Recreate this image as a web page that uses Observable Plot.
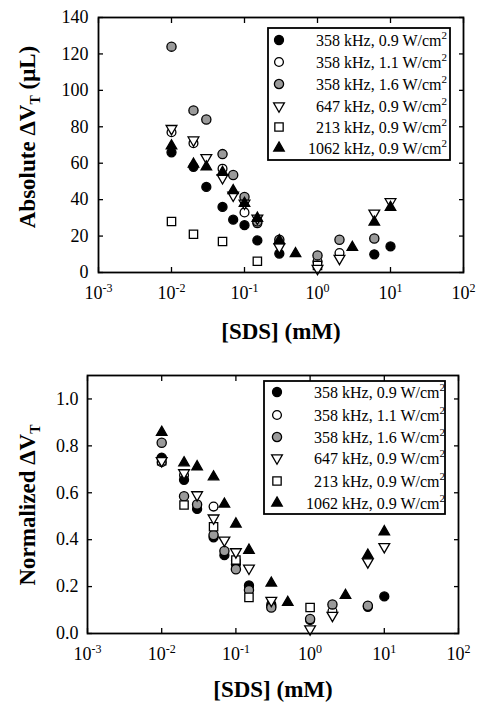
<!DOCTYPE html>
<html><head><meta charset="utf-8">
<script src="https://cdn.jsdelivr.net/npm/d3@7"></script>
<script src="https://cdn.jsdelivr.net/npm/@observablehq/plot@0.6"></script>
<style>
body{margin:0;background:#fff;}
#wrap{position:relative;width:478px;height:702px;background:#fff;overflow:hidden;}
#wrap svg{position:absolute;left:0;}
</style></head><body><div id="wrap"></div>
<script>
// ---------- data ----------
const sds = [0.01, 0.02, 0.03, 0.05, 0.07, 0.1, 0.15, 0.3, 0.5, 1, 2, 3, 6, 10];
const seriesLabels = ["358 kHz, 0.9 W/cm", "358 kHz, 1.1 W/cm", "358 kHz, 1.6 W/cm", "647 kHz, 0.9 W/cm", "213 kHz, 0.9 W/cm", "1062 kHz, 0.9 W/cm"];
const labelSup = "2";
// Absolute ΔV_T (µL)
const abs358_09 = [66, 58, 47, 36, 29, 26, 17.6, 10.4, null, null, null, null, 10, 14.3];
const abs358_11 = [77, 71, null, 57, null, 33, 27, 16, null, 6, 10.7, null, null, null];
const abs358_16 = [124, 89, 84, 65, 53.5, 41.5, 28, 18, null, 9.4, 18, null, 18.7, null];
const abs647_09 = [79, 72.7, 63, 52, 42.4, 38, 29.8, 14, null, 2.2, 7.7, null, 32.5, 38.8];
const abs213_09 = [28, 21, null, 17, null, null, 6.2, null, null, 3.9, null, null, null, null];
const abs1062_09 = [69.5, 59.5, 58, 55, 45, 38, 29.8, 17.5, 10.4, null, null, 13.8, 27.7, 35.8];
// Normalized ΔV_T
const nrm358_09 = [0.75, 0.655, 0.531, 0.41, 0.334, 0.295, 0.205, 0.118, null, null, null, null, 0.114, 0.158];
const nrm358_11 = [0.73, 0.675, null, 0.541, null, 0.31, 0.2, 0.125, null, 0.057, 0.095, null, null, null];
const nrm358_16 = [0.813, 0.585, 0.55, 0.42, 0.352, 0.274, 0.185, 0.111, null, 0.062, 0.124, null, 0.118, null];
const nrm647_09 = [0.737, 0.685, 0.591, 0.492, 0.398, 0.348, 0.278, 0.141, null, 0.019, 0.077, null, 0.305, 0.37];
const nrm213_09 = [0.737, 0.548, null, 0.455, null, 0.313, 0.154, null, null, 0.111, null, null, null, null];
const nrm1062_09 = [0.858, 0.728, 0.711, 0.668, 0.552, 0.467, 0.355, 0.215, 0.133, null, null, 0.163, 0.334, 0.434];
// ticks
const xTicks = [1e-3, 1e-2, 1e-1, 1, 10, 100];
const yTicksAbs = [0, 20, 40, 60, 80, 100, 120, 140];
const yTicksNrm = [0, 0.2, 0.4, 0.6, 0.8, 1.0];

// ---------- styles ----------
const FONT = '"Liberation Serif", "Times New Roman", serif';
const triDown = {
  draw(ctx, size) {
    const y = -Math.sqrt(size / (Math.sqrt(3) * 3));
    ctx.moveTo(0, -y * 2);
    ctx.lineTo(-Math.sqrt(3) * y, y);
    ctx.lineTo(Math.sqrt(3) * y, y);
    ctx.closePath();
  }
};
const styles = [
  {symbol: "circle", fill: "#000", r: 4.5},
  {symbol: "circle", fill: "#fff", r: 4.4},
  {symbol: "circle", fill: "#9a9a9a", r: 4.6},
  {symbol: triDown, fill: "#fff", r: 4.0},
  {symbol: "square", fill: "#fff", r: 4.7},
  {symbol: "triangle", fill: "#000", r: 3.9}
];
const drawOrder = [1, 0, 2, 4, 3, 5];
const symMap = {circle: d3.symbolCircle, square: d3.symbolSquare, triangle: d3.symbolTriangle};

function makePanel(cfg) {
  const rows = [];
  cfg.series.forEach((arr, si) => arr.forEach((v, i) => { if (v != null) rows.push({x: sds[i], y: v, s: si}); }));
  const dots = drawOrder.map(si => Plot.dot(rows.filter(d => d.s === si), {
    x: "x", y: "y", symbol: styles[si].symbol, fill: styles[si].fill, stroke: "#000", strokeWidth: 1.3, r: styles[si].r
  }));
  const plot = Plot.plot({
    width: 478, height: cfg.height,
    marginLeft: cfg.ml, marginRight: cfg.mr, marginTop: cfg.mt, marginBottom: cfg.mb,
    style: {fontFamily: FONT, fontSize: "18px", background: "#fff", color: "#000", overflow: "visible"},
    x: {type: "log", domain: [1e-3, 1e2]},
    y: {domain: cfg.yDomain},
    marks: [
      Plot.axisX({ticks: xTicks, anchor: "bottom", tickSize: -5, fill: "none", label: null, strokeWidth: 1.3}),
      Plot.axisX({ticks: xTicks, anchor: "top", tickSize: -5, fill: "none", label: null, strokeWidth: 1.3}),
      Plot.axisY({ticks: cfg.yTicks, anchor: "left", tickSize: -5, fill: "none", label: null, strokeWidth: 1.3}),
      Plot.axisY({ticks: cfg.yTicks, anchor: "right", tickSize: -5, fill: "none", label: null, strokeWidth: 1.3}),
      Plot.axisX({ticks: xTicks, anchor: "bottom", tickSize: 0, tickPadding: cfg.xPad, label: null, fontSize: 18,
        tickFormat: d => "10^" + Math.round(Math.log10(d))}),
      Plot.axisY({ticks: cfg.yTicks, anchor: "left", tickSize: 0, tickPadding: cfg.yPad, label: null, fontSize: 18,
        tickFormat: cfg.yFmt}),
      ...dots,
      Plot.frame({stroke: "#000", strokeWidth: 1.8})
    ]
  });
  plot.style.top = cfg.top + "px";
  const svg = d3.select(plot);
  // superscript exponents on x tick labels
  svg.selectAll("text").each(function() {
    const m = /^10\^(-?\d+)$/.exec(this.textContent);
    if (m) {
      this.textContent = "";
      const t = d3.select(this);
      t.append("tspan").text("10");
      t.append("tspan").attr("dy", -7).attr("font-size", 12).text(m[1]);
    }
  });
  // x title
  svg.append("text").attr("x", cfg.xTitle[0]).attr("y", cfg.xTitle[1])
    .attr("text-anchor", "middle").attr("font-family", FONT).attr("font-weight", "bold").attr("font-size", 23)
    .text("[SDS] (mM)");
  // y title
  const yt = svg.append("text")
    .attr("transform", `translate(${cfg.yTitle[0]},${cfg.yTitle[1]}) rotate(-90)`)
    .attr("text-anchor", "middle").attr("font-family", FONT).attr("font-weight", "bold").attr("font-size", 23);
  yt.append("tspan").text(cfg.yTitleText[0]);
  yt.append("tspan").attr("dy", 5).attr("font-size", 14).text("T");
  if (cfg.yTitleText[1]) yt.append("tspan").attr("dy", -5).text(cfg.yTitleText[1]);
  // legend
  const L = cfg.legend;
  const g = svg.append("g");
  g.append("rect").attr("x", L.x).attr("y", L.y).attr("width", L.w).attr("height", L.h)
    .attr("fill", "#fff").attr("stroke", "#000").attr("stroke-width", 1.8);
  seriesLabels.forEach((lab, i) => {
    const cy = L.rows[i];
    const st = styles[i];
    const type = typeof st.symbol === "string" ? symMap[st.symbol] : st.symbol;
    g.append("path").attr("d", d3.symbol(type, Math.PI * st.r * st.r)())
      .attr("transform", `translate(${L.sx},${cy})`)
      .attr("fill", st.fill).attr("stroke", "#000").attr("stroke-width", 1.3);
    const t = g.append("text").attr("x", L.tx).attr("y", cy).attr("dy", "0.35em")
      .attr("text-anchor", "end").attr("font-family", FONT).attr("font-size", 16);
    t.append("tspan").text(lab);
    t.append("tspan").attr("dy", -7).attr("font-size", 11).text(labelSup);
  });
  return plot;
}

const wrap = document.getElementById("wrap");
wrap.appendChild(makePanel({
  top: 0, height: 350, ml: 98, mr: 15, mt: 17, mb: 78,
  series: [abs358_09, abs358_11, abs358_16, abs647_09, abs213_09, abs1062_09],
  yDomain: [0, 140], yTicks: yTicksAbs, yFmt: d => String(d), xPad: 14, yPad: 10,
  xTitle: [281, 339], yTitle: [35, 137], yTitleText: ["Absolute \u0394V", " (\u03bcL)"],
  legend: {x: 268, y: 28, w: 182, h: 132, sx: 279, tx: 447, rows: [40, 62, 84, 106, 127, 148]}
}));
wrap.appendChild(makePanel({
  top: 350, height: 352, ml: 87, mr: 20, mt: 25, mb: 69,
  series: [nrm358_09, nrm358_11, nrm358_16, nrm647_09, nrm213_09, nrm1062_09],
  yDomain: [0, 1.1], yTicks: yTicksNrm, yFmt: d3.format(".1f"), xPad: 14, yPad: 9,
  xTitle: [273, 347], yTitle: [35, 155], yTitleText: ["Normalized \u0394V", ""],
  legend: {x: 264, y: 31, w: 181, h: 133, sx: 277, tx: 445, rows: [42, 65, 87, 108, 131, 153]}
}));
</script></body></html>
